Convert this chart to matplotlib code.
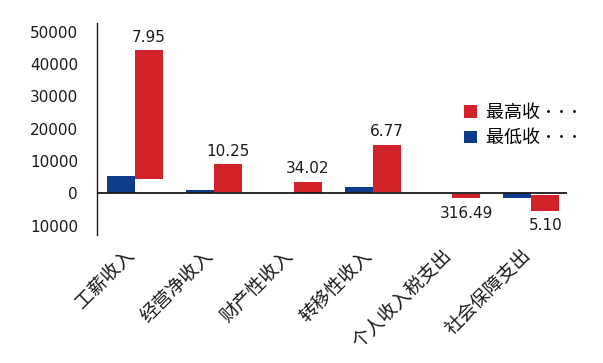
import matplotlib
matplotlib.use("Agg")
import matplotlib.pyplot as plt
from matplotlib.transforms import ScaledTranslation

categories = ["工薪收入", "经营净收入", "财产性收入", "转移性收入", "个人收入税支出", "社会保障支出"]
low_values = [5350, 930, 100, 1950, -5, -1550]
high_top = [44230, 8970, 3500, 14940, -1550, -5470]
high_base = [4330, 310, 0, 400, -300, -500]
ratio_labels = ["7.95", "10.25", "34.02", "6.77", "316.49", "5.10"]
ytick_values = [-10000, 0, 10000, 20000, 30000, 40000, 50000]
ytick_labels = ["10000", "0", "10000", "20000", "30000", "40000", "50000"]
legend_labels = ["最高收 ･ ･ ･", "最低收 ･ ･ ･"]

RED = "#D2232B"
BLUE = "#0F3B8C"
CJK = ["Noto Sans CJK SC", "DejaVu Sans"]

fig = plt.figure(figsize=(6.03, 3.63), dpi=100)
ax = fig.add_axes([0.1609, 0.3526, 0.7794, 0.584])

w = 0.353
x = list(range(len(categories)))
heights = [t - b for t, b in zip(high_top, high_base)]
bl = ax.bar([i - w / 2 for i in x], low_values, width=w, color=BLUE, label=legend_labels[1], zorder=2)
br = ax.bar([i + w / 2 for i in x], heights, bottom=high_base, width=w, color=RED, label=legend_labels[0], zorder=2)

for i, (t, lab) in enumerate(zip(high_top, ratio_labels)):
    if t >= 0:
        ax.annotate(lab, (i + w / 2, t), xytext=(0, 6.3), textcoords="offset points",
                    ha="center", va="baseline", fontsize=11, family="DejaVu Sans", color="#1a1a1a")
    else:
        ax.annotate(lab, (i + w / 2, t), xytext=(0, -5.2), textcoords="offset points",
                    ha="center", va="top", fontsize=11, family="DejaVu Sans", color="#1a1a1a")

ax.set_xlim(-0.479, 5.448)
ax.set_ylim(-12900, 52670)
ax.axhline(0, color="#1a1a1a", lw=1.3, zorder=3)
ax.set_yticks(ytick_values)
ax.set_yticklabels(ytick_labels, fontsize=11, family="DejaVu Sans", color="#1a1a1a")
ax.tick_params(axis="y", length=0, pad=13.7)
ax.set_xticks(x)
ax.set_xticklabels(categories, rotation=45, ha="right", va="center",
                   rotation_mode="anchor", fontsize=13.5, family=CJK, color="#1a1a1a")
ax.tick_params(axis="x", length=0, pad=14)
shift = ScaledTranslation(-4 / 100, 2 / 100, fig.dpi_scale_trans)
for lbl in ax.get_xticklabels():
    lbl.set_transform(lbl.get_transform() + shift)
for s in ["top", "right", "bottom"]:
    ax.spines[s].set_visible(False)
ax.spines["left"].set_color("#1a1a1a")
ax.spines["left"].set_linewidth(1.0)

leg = ax.legend(handles=[br, bl], labels=legend_labels, loc="upper left",
                bbox_to_anchor=(0.7806, 0.6175), frameon=False, prop={"family": CJK, "size": 13},
                handlelength=0.7, handleheight=0.7, handletextpad=0.5, labelspacing=0.4,
                borderaxespad=0, borderpad=0)

fig.savefig("out.png", dpi=100)
